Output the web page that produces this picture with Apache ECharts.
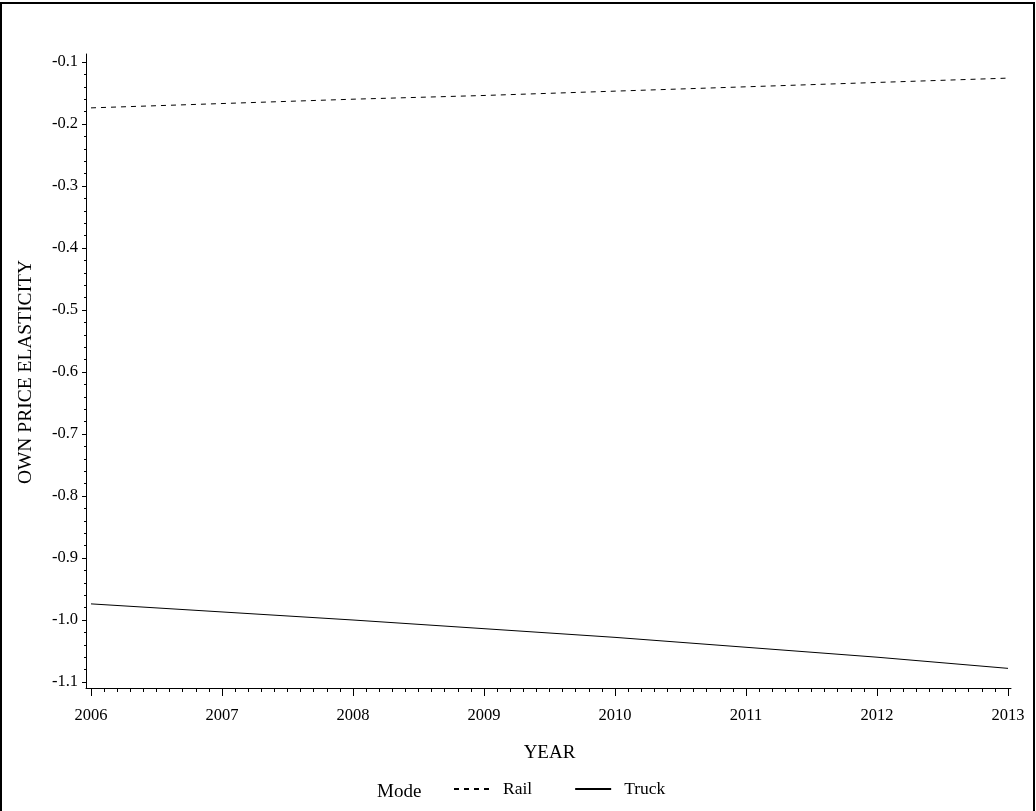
<!DOCTYPE html>
<html>
<head>
<meta charset="utf-8">
<script src="https://cdn.jsdelivr.net/npm/echarts@6/dist/echarts.min.js"></script>
<style>
html,body{margin:0;padding:0;background:#fff;}
#wrap{position:relative;width:1036px;height:811px;overflow:hidden;}
#chart{position:absolute;left:0;top:0;width:1036px;height:811px;}
#frame{position:absolute;left:0;top:2px;width:1035px;height:830px;border:2px solid #000;box-sizing:border-box;pointer-events:none;}
</style>
</head>
<body>
<div id="wrap"><div id="chart"></div><div id="frame"></div></div>
<script>
const years = [2006, 2007, 2008, 2009, 2010, 2011, 2012, 2013];
const railValues = [-0.174, -0.167, -0.160, -0.154, -0.147, -0.140, -0.133, -0.126];
const truckValues = [-0.974, -0.987, -1.000, -1.014, -1.028, -1.044, -1.060, -1.078];
const seriesNames = ['Rail', 'Truck'];
const yTickLabels = ['-1.1','-1.0','-0.9','-0.8','-0.7','-0.6','-0.5','-0.4','-0.3','-0.2','-0.1'];

const FONT = 'Liberation Serif';
const chart = echarts.init(document.getElementById('chart'), null, {renderer: 'canvas'});

const pairs = (vals) => years.map((y, i) => [y, vals[i]]);

chart.setOption({
  animation: false,
  backgroundColor: '#fff',
  textStyle: {fontFamily: FONT, color: '#000'},
  title: {
    text: 'Mode',
    left: 377, top: 783,
    padding: 0,
    textStyle: {fontFamily: FONT, fontSize: 19, fontWeight: 'normal', color: '#000'}
  },
  legend: {
    data: seriesNames,
    left: 453, top: 780,
    padding: 0,
    itemWidth: 36, itemHeight: 14,
    itemGap: 42,
    itemStyle: {opacity: 0},
    textStyle: {fontFamily: FONT, fontSize: 17.5, color: '#000', padding: [2, 0, 0, 8]}
  },
  grid: [
    {left: 91, right: 28, top: 62, bottom: 129, containLabel: false},
    {left: 86, right: 25, top: 54, bottom: 123, containLabel: false}
  ],
  xAxis: [
    {
      gridIndex: 0, type: 'value', min: 2006, max: 2013, interval: 1,
      offset: 6,
      axisLine: {show: false},
      axisTick: {show: true, length: 8, lineStyle: {color: '#000', width: 1}},
      minorTick: {show: true, splitNumber: 10, length: 4, lineStyle: {color: '#000', width: 1}},
      splitLine: {show: false},
      axisLabel: {fontFamily: FONT, fontSize: 16.5, color: '#000', margin: 19, formatter: v => String(v)},
      name: 'YEAR', nameLocation: 'middle', nameGap: 56,
      nameTextStyle: {fontFamily: FONT, fontSize: 19, color: '#000'}
    },
    {
      gridIndex: 1, type: 'value', min: 0, max: 1,
      axisLine: {show: true, lineStyle: {color: '#000', width: 1}},
      axisTick: {show: false}, axisLabel: {show: false}, splitLine: {show: false}
    }
  ],
  yAxis: [
    {
      gridIndex: 0, type: 'value', min: -1.1, max: -0.1, interval: 0.1,
      offset: 5,
      axisLine: {show: false},
      axisTick: {show: true, length: 4, lineStyle: {color: '#000', width: 1}},
      minorTick: {show: true, splitNumber: 5, length: 2, lineStyle: {color: '#000', width: 1}},
      splitLine: {show: false},
      axisLabel: {fontFamily: FONT, fontSize: 16.5, color: '#000', margin: 8,
        formatter: v => yTickLabels[Math.round((v + 1.1) * 10)] ?? v.toFixed(1)},
      name: 'OWN PRICE ELASTICITY', nameLocation: 'middle', nameGap: 50, nameRotate: 90,
      nameTextStyle: {fontFamily: FONT, fontSize: 19.5, color: '#000'}
    },
    {
      gridIndex: 1, type: 'value', min: 0, max: 1,
      axisLine: {show: true, lineStyle: {color: '#000', width: 1}},
      axisTick: {show: false}, axisLabel: {show: false}, splitLine: {show: false}
    }
  ],
  series: [
    {
      name: 'Rail', type: 'line', xAxisIndex: 0, yAxisIndex: 0,
      data: pairs(railValues), symbol: 'none', smooth: false,
      lineStyle: {color: '#000', width: 1, type: [5, 5]},
      itemStyle: {color: '#000'}
    },
    {
      name: 'Truck', type: 'line', xAxisIndex: 0, yAxisIndex: 0,
      data: pairs(truckValues), symbol: 'none', smooth: false,
      lineStyle: {color: '#000', width: 1, type: 'solid'},
      itemStyle: {color: '#000'}
    }
  ]
});
</script>
</body>
</html>
